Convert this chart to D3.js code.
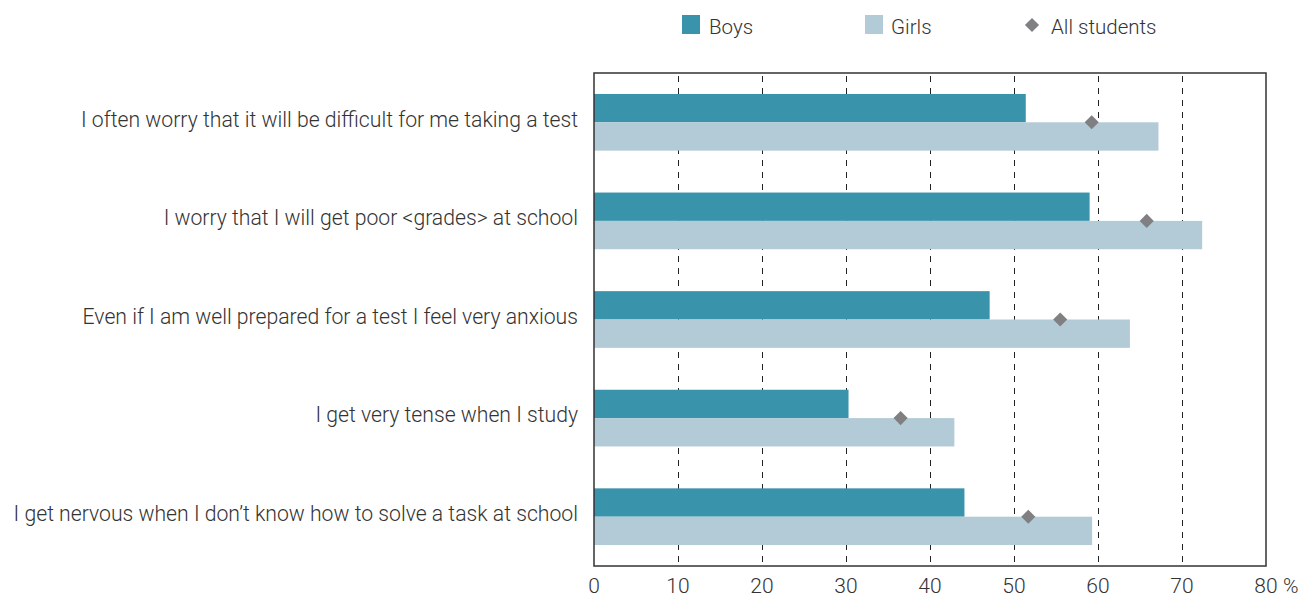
<!DOCTYPE html>
<html>
<head>
<meta charset="utf-8">
<script src="https://cdn.jsdelivr.net/npm/d3@7"></script>
<style>
  body { margin: 0; background: #fff; }
  text { font-family: Roboto, "Liberation Sans", sans-serif; font-weight: 300; fill: #333; }
</style>
</head>
<body>
<script>
const categories = [
  "I often worry that it will be difficult for me taking a test",
  "I worry that I will get poor <grades> at school",
  "Even if I am well prepared for a test I feel very anxious",
  "I get very tense when I study",
  "I get nervous when I don\u2019t know how to solve a task at school",
];
const boys = [51.4, 59.0, 47.1, 30.3, 44.1];
const girls = [67.2, 72.4, 63.8, 42.9, 59.3];
const allStudents = [59.25, 65.8, 55.5, 36.5, 51.7];
const ticks = [0, 10, 20, 30, 40, 50, 60, 70, 80];

const W = 1313, H = 599;
const m = { left: 594, right: 1266, top: 73, bottom: 566 };
const BOYS = "#3993ab", GIRLS = "#b2cbd6", DIAMOND = "#808083";

const svg = d3.select("body").append("svg")
  .attr("width", W).attr("height", H);

const x = d3.scaleLinear().domain([0, 80]).range([m.left, m.right]);
const y = d3.scaleBand().domain(categories).range([m.top, m.bottom])
  .paddingInner(0.425).paddingOuter(0.2125);
const sub = d3.scaleBand().domain(["boys", "girls"]).range([0, y.bandwidth()]);

// dashed gridlines
svg.append("g").selectAll("line")
  .data(ticks.slice(1, -1))
  .join("line")
  .attr("x1", d => Math.round(x(d)) + 0.5).attr("x2", d => Math.round(x(d)) + 0.5)
  .attr("y1", m.top).attr("y2", m.bottom)
  .attr("stroke", "#222").attr("stroke-width", 1)
  .attr("stroke-dasharray", "6,6")
  .attr("stroke-dashoffset", -3);

// bars
const rows = categories.map((c, i) => ({ c, boys: boys[i], girls: girls[i], all: allStudents[i] }));
const g = svg.append("g");
g.selectAll(".boys").data(rows).join("rect")
  .attr("class", "boys")
  .attr("x", x(0)).attr("y", d => y(d.c) + sub("boys"))
  .attr("width", d => x(d.boys) - x(0)).attr("height", sub.bandwidth())
  .attr("fill", BOYS);
g.selectAll(".girls").data(rows).join("rect")
  .attr("class", "girls")
  .attr("x", x(0)).attr("y", d => y(d.c) + sub("girls"))
  .attr("width", d => x(d.girls) - x(0)).attr("height", sub.bandwidth())
  .attr("fill", GIRLS);

// diamonds for all students
const diamond = d3.symbol().type(d3.symbolSquare).size(100);
g.selectAll(".all").data(rows).join("path")
  .attr("class", "all")
  .attr("d", diamond)
  .attr("transform", d => `translate(${x(d.all)},${y(d.c) + sub("girls")}) rotate(45)`)
  .attr("fill", DIAMOND);

// frame
svg.append("rect")
  .attr("x", m.left).attr("y", m.top)
  .attr("width", m.right - m.left).attr("height", m.bottom - m.top)
  .attr("fill", "none").attr("stroke", "#333").attr("stroke-width", 1.5);

// category labels
svg.append("g").selectAll("text").data(categories).join("text")
  .attr("x", 578)
  .attr("y", d => y(d) + y.bandwidth() / 2)
  .attr("dy", "0.2em")
  .attr("text-anchor", "end")
  .attr("font-size", 21.2)
  .text(d => d);

// x tick labels
const xt = svg.append("g");
xt.selectAll("text").data(ticks).join("text")
  .attr("x", d => x(d))
  .attr("y", 593)
  .attr("text-anchor", "middle")
  .attr("font-size", 21)
  .text(d => d);
xt.append("text")
  .attr("x", x(80) + 17).attr("y", 593)
  .attr("font-size", 21)
  .text("%");

// legend
const leg = svg.append("g");
leg.append("rect").attr("x", 682).attr("y", 15).attr("width", 18).attr("height", 19).attr("fill", BOYS);
leg.append("text").attr("x", 709).attr("y", 34).attr("font-size", 20.5).text("Boys");
leg.append("rect").attr("x", 865).attr("y", 15).attr("width", 18).attr("height", 19).attr("fill", GIRLS);
leg.append("text").attr("x", 891).attr("y", 34).attr("font-size", 20.5).text("Girls");
leg.append("path").attr("d", diamond)
  .attr("transform", "translate(1032,25) rotate(45)").attr("fill", DIAMOND);
leg.append("text").attr("x", 1051).attr("y", 34).attr("font-size", 20.5).text("All students");
</script>
</body>
</html>
